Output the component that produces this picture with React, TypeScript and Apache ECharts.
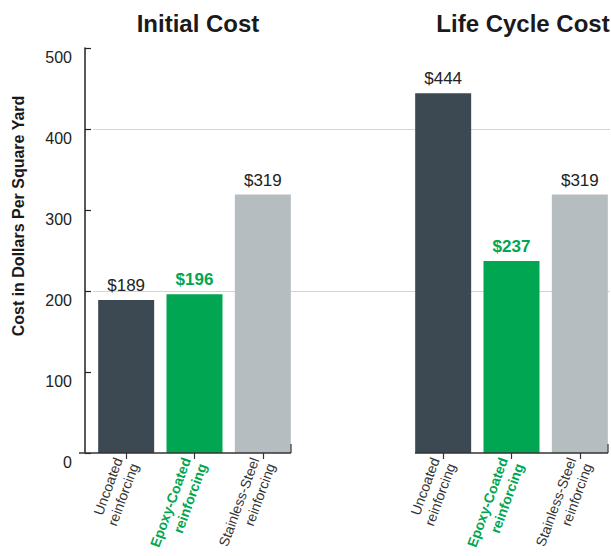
import React, { useEffect, useRef } from "react";
import * as echarts from "echarts";

const categories = ["Uncoated\nreinforcing", "Epoxy-Coated\nreinforcing", "Stainless-Steel\nreinforcing"];
const initialCost = [189, 196, 319];
const lifeCycleCost = [444, 237, 319];
const panelTitles = ["Initial Cost", "Life Cycle Cost"];
const yAxisTitle = "Cost in Dollars Per Square Yard";
const yMin = 0;
const yMax = 500;
const yInterval = 100;
const gridInterval = 200;

const barColors = ["#3d4952", "#00a651", "#b6bdc0"];
const labelColors = ["#222222", "#00a651", "#222222"];
const labelWeights = ["normal", "bold", "normal"];
const FONT = '"Liberation Sans", Arial, sans-serif';

function makeData(values: number[]) {
  return values.map((v, i) => ({
    value: v,
    itemStyle: { color: barColors[i] },
    label: { color: labelColors[i], fontWeight: labelWeights[i] },
  }));
}

function xAxisFor(gridIndex: number) {
  return {
    type: "category",
    gridIndex,
    data: categories,
    axisLine: { show: false },
    axisTick: { show: true, alignWithLabel: true, length: 6, lineStyle: { color: "#333", width: 1.2 } },
    axisLabel: {
      interval: 0,
      rotate: 70,
      margin: 8,
      fontFamily: FONT,
      fontSize: 14,
      lineHeight: 17,
      color: "#333",
      formatter: (v: string, i: number) =>
        i === 1 ? v.split("\n").map((s) => `{g|${s}}`).join("\n") : v,
      rich: {
        g: { color: "#00a651", fontWeight: "bold", fontSize: 14, lineHeight: 17, fontFamily: FONT },
      },
    },
  };
}

export default function App() {
  const ref = useRef<HTMLDivElement>(null);
  useEffect(() => {
    if (!ref.current) return;
    const chart = echarts.init(ref.current, null, { renderer: "svg" });
    const seriesLabel = {
      show: true,
      position: "top",
      distance: 6,
      fontFamily: FONT,
      fontSize: 17,
      formatter: (p: any) => `$${p.value}`,
    };
    chart.setOption({
      animation: false,
      grid: [
        { left: 92, top: 48, width: 205, height: 405, outerBoundsMode: "none", containLabel: false },
        { left: 409, top: 48, width: 205, height: 405, outerBoundsMode: "none", containLabel: false },
        { left: 93, top: 48, width: 517, height: 405, outerBoundsMode: "none", containLabel: false },
      ],
      xAxis: [
        xAxisFor(0),
        xAxisFor(1),
        { type: "value", gridIndex: 2, min: 0, max: 1, show: false },
      ],
      yAxis: [
        {
          type: "value",
          gridIndex: 0,
          min: yMin,
          max: yMax,
          interval: yInterval,
          offset: 7,
          axisLine: { show: true, lineStyle: { color: "#222", width: 1.5 } },
          axisTick: { show: true, inside: true, length: 6, lineStyle: { color: "#222", width: 1.2 } },
          axisLabel: {
            margin: 13,
            fontFamily: FONT,
            fontSize: 16,
            lineHeight: 19,
            verticalAlign: "top",
            color: "#222",
          },
          splitLine: { show: false },
        },
        { type: "value", gridIndex: 1, min: yMin, max: yMax, show: false, splitLine: { show: false } },
        {
          type: "value",
          gridIndex: 2,
          min: yMin,
          max: yMax,
          interval: gridInterval,
          axisLine: { show: false },
          axisTick: { show: false },
          axisLabel: { show: false },
          splitLine: { show: true, showMinLine: false, showMaxLine: false, lineStyle: { color: "#d4d4d4", width: 1.2 } },
        },
      ],
      series: [
        {
          type: "bar",
          xAxisIndex: 0,
          yAxisIndex: 0,
          barWidth: 56,
          data: makeData(initialCost),
          label: seriesLabel,
          z: 3,
        },
        {
          type: "bar",
          xAxisIndex: 1,
          yAxisIndex: 1,
          barWidth: 56,
          data: makeData(lifeCycleCost),
          label: seriesLabel,
          z: 3,
        },
      ],
      graphic: [
        {
          type: "text",
          x: 198,
          y: 23,
          style: { text: panelTitles[0], textAlign: "center", textVerticalAlign: "middle", fontFamily: FONT, fontSize: 24, fontWeight: "bold", fill: "#1a1a1a" },
        },
        {
          type: "text",
          x: 523,
          y: 23,
          style: { text: panelTitles[1], textAlign: "center", textVerticalAlign: "middle", fontFamily: FONT, fontSize: 24, fontWeight: "bold", fill: "#1a1a1a" },
        },
        {
          type: "text",
          x: 18,
          y: 216,
          rotation: Math.PI / 2,
          style: { text: yAxisTitle, textAlign: "center", textVerticalAlign: "middle", fontFamily: FONT, fontSize: 16, fontWeight: "bold", fill: "#1a1a1a" },
        },
        { type: "line", z: 10, shape: { x1: 79, y1: 453, x2: 291, y2: 453 }, style: { stroke: "#333", lineWidth: 1.5 } },
        { type: "line", z: 10, shape: { x1: 291, y1: 444, x2: 291, y2: 453 }, style: { stroke: "#333", lineWidth: 1.2 } },
        { type: "line", z: 10, shape: { x1: 415, y1: 453, x2: 608, y2: 453 }, style: { stroke: "#333", lineWidth: 1.5 } },
        { type: "line", z: 10, shape: { x1: 608, y1: 444, x2: 608, y2: 453 }, style: { stroke: "#333", lineWidth: 1.2 } },
      ],
    });
    return () => chart.dispose();
  }, []);
  return (
    <div
      ref={ref}
      style={{ position: "absolute", left: 0, top: 0, width: 611, height: 556 }}
    />
  );
}
